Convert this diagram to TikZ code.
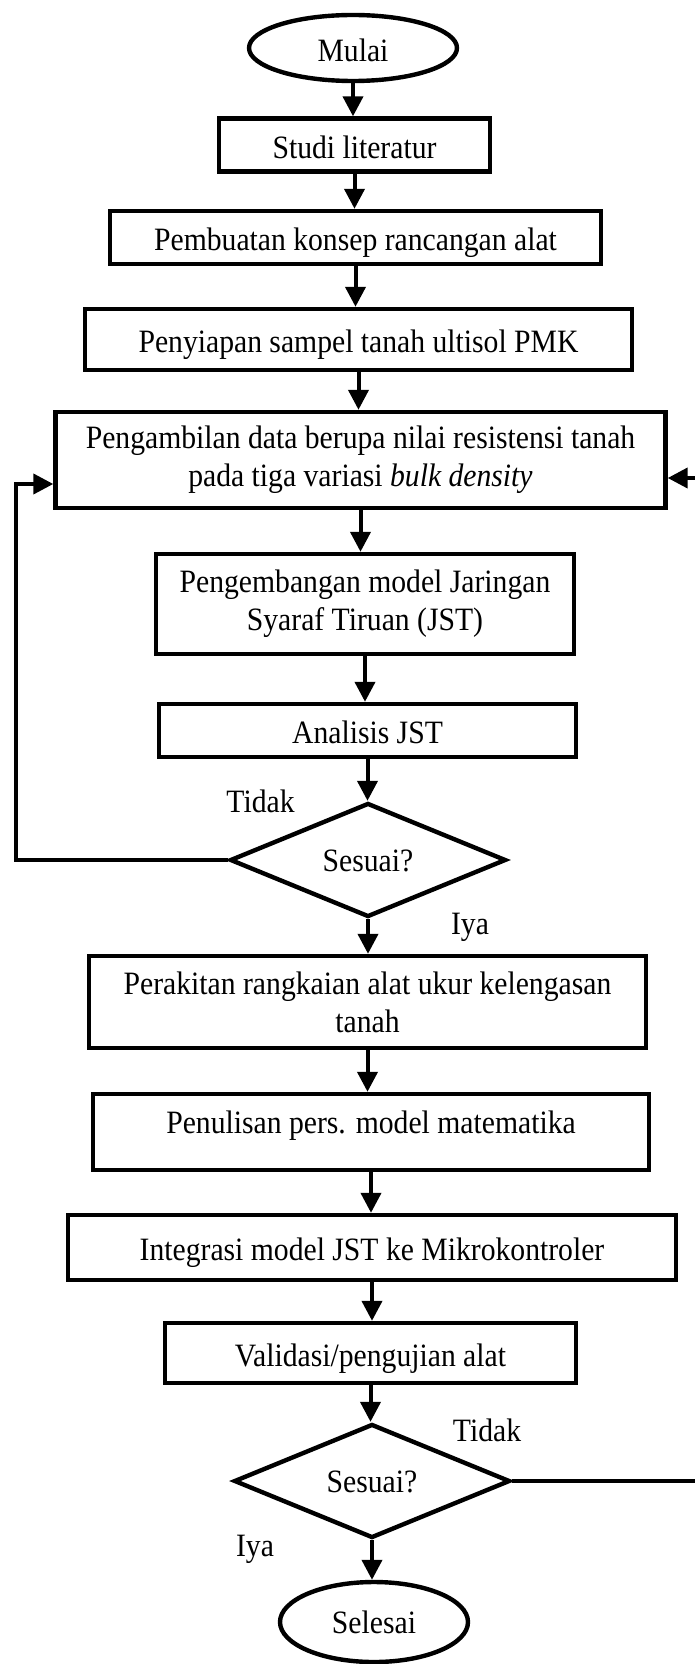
\documentclass[tikz,border=0pt]{standalone}
\usepackage{fontspec}
\setmainfont[FakeStretch=0.91]{Liberation Serif}
\usetikzlibrary{arrows.meta,shapes.geometric}
\begin{document}
\begin{tikzpicture}[x=0.5pt,y=-0.5pt,
  every node/.style={font=\fontsize{16.3pt}{18.9pt}\selectfont, inner sep=0pt},
  box/.style={draw, rectangle, line width=2.2pt, align=center},
  one/.style={text height=13.3pt, text depth=0pt},
  ctr/.style={text height=11.4pt, text depth=0pt},
  oval/.style={draw, ellipse, line width=2.2pt},
  dec/.style={draw, diamond, line width=2.2pt, minimum width=138pt, minimum height=57pt},
  arr/.style={line width=2pt, -{Triangle[length=10pt,width=10pt]}},
  ln/.style={line width=2.2pt},
  lbl/.style={anchor=base}
]
\useasboundingbox (0,0) rectangle (695,1664);
\node[oval, one, minimum width=104pt, minimum height=33pt] (mulai) at (353,48) {Mulai};
\node[box, one, minimum width=135.5pt, minimum height=26.5pt] (studi) at (354.5,145) {Studi literatur};
\node[box, one, minimum width=245.5pt, minimum height=26.5pt] (konsep) at (355.5,237.5) {Pembuatan konsep rancangan alat};
\node[box, one, minimum width=273.5pt, minimum height=30.5pt] (sampel) at (358.5,339.5) {Penyiapan sampel tanah ultisol PMK};
\node[box, minimum width=305pt, minimum height=48pt] (data) at (360.5,460) {Pengambilan data berupa nilai resistensi tanah\\pada tiga variasi \textit{bulk density}};
\node[box, minimum width=209pt, minimum height=50pt] (jst) at (365,604) {Pengembangan model Jaringan\\Syaraf Tiruan (JST)};
\node[box, one, minimum width=208.5pt, minimum height=26.5pt] (analisis) at (367.5,730.5) {Analisis JST};
\node[dec, ctr] (d1) at (368,860) {Sesuai?};
\node[box, minimum width=278.5pt, minimum height=46pt] (rakit) at (367.5,1002) {Perakitan rangkaian alat ukur kelengasan\\tanah};
\node[box, text height=10.8pt, text depth=9pt, minimum width=278pt, minimum height=38pt] (tulis) at (371,1132) {Penulisan pers. model matematika};
\node[box, one, minimum width=304pt, minimum height=32.5pt] (integ) at (372,1247.5) {Integrasi model JST ke Mikrokontroler};
\node[box, one, minimum width=205.5pt, minimum height=30pt] (valid) at (370.5,1353) {Validasi/pengujian alat};
\node[dec, ctr] (d2) at (372,1481) {Sesuai?};
\node[oval, ctr, minimum width=94pt, minimum height=40pt] (selesai) at (374,1622) {Selesai};

\node[lbl] (t1) at (260.5,812) {Tidak};
\node[lbl] (i1) at (470,934) {Iya};
\node[lbl] (t2) at (487,1441) {Tidak};
\node[lbl] (i2) at (255,1556) {Iya};

\draw[arr] (mulai.south) -- (mulai.south |- studi.north);
\draw[arr] (studi.south) -- (studi.south |- konsep.north);
\draw[arr] (konsep.south) -- (konsep.south |- sampel.north);
\draw[arr] (sampel.south) -- (sampel.south |- data.north);
\draw[arr] (data.south) -- (data.south |- jst.north);
\draw[arr] (jst.south) -- (jst.south |- analisis.north);
\draw[arr] (analisis.south) -- (analisis.south |- d1.north);
\draw[arr] (d1.south) -- (d1.south |- rakit.north);
\draw[arr] (rakit.south) -- (rakit.south |- tulis.north);
\draw[arr] (tulis.south) -- (tulis.south |- integ.north);
\draw[arr] (integ.south) -- (integ.south |- valid.north);
\draw[arr] (valid.south) -- (valid.south |- d2.north);
\draw[arr] (d2.south) -- (d2.south |- selesai.north);

\coordinate (lp) at (16,484);
\draw[arr] (d1.west) -- (d1.west -| lp) -- (lp) -- (lp -| data.west);
\coordinate (rp) at (700,478);
\draw[arr] (rp) -- (rp -| data.east);
\draw[ln] (d2.east) -- (d2.east -| rp);
\end{tikzpicture}
\end{document}
